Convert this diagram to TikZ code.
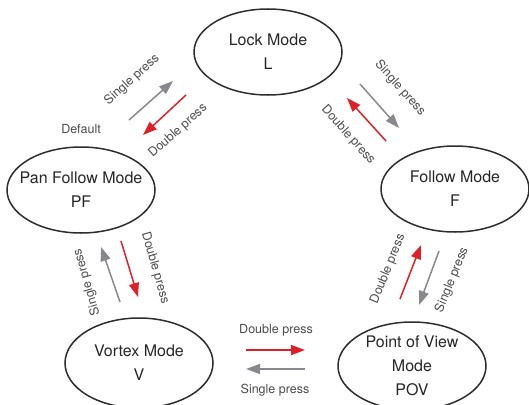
\documentclass[tikz,border=0pt]{standalone}
\usepackage{fontspec}
\setmainfont{TeX Gyre Heros}
\usetikzlibrary{shapes.geometric, arrows.meta}

\definecolor{pressred}{RGB}{222,32,40}
\definecolor{pressgray}{RGB}{136,137,141}
\definecolor{modeline}{RGB}{45,45,45}
\definecolor{labeltext}{RGB}{75,75,75}

\begin{document}
\begin{tikzpicture}[x=1pt, y=-1pt,
  mode/.style={ellipse, draw=modeline, line width=1.5pt, minimum width=148pt,
    minimum height=86pt, inner xsep=-20pt, inner ysep=0pt, align=center,
    text=black!85, font=\fontsize{16}{24}\selectfont},
  singlearrow/.style={pressgray, line width=1.5pt, -{Triangle[length=14pt, width=10pt]}},
  doublearrow/.style={pressred, line width=1.5pt, -{Triangle[length=14pt, width=10pt]}},
  presslabel/.style={text=labeltext, inner sep=0pt, font=\fontsize{12.5}{14}\selectfont}]

\useasboundingbox (0,0) rectangle (529,404);

%% the five modes
\node[mode] (lock) at (268,52) {Lock Mode\\L};
\node[mode] (pan) at (81,190) {Pan Follow Mode\\PF};
\node[mode] (follow) at (455,189) {Follow Mode\\F};
\node[mode, minimum height=90pt] (vortex) at (139,363) {Vortex Mode\\V};
\node[mode, minimum height=88pt] (pov) at (412,366) {Point of View\\Mode\\POV};

%% arrow ends
\coordinate (panlock1) at (129,120);
\coordinate (panlock2) at (173,81);
\coordinate (lockpan1) at (186,95);
\coordinate (lockpan2) at (143,135);
\coordinate (lockfol1) at (360,84);
\coordinate (lockfol2) at (399,128);
\coordinate (follock1) at (386,141);
\coordinate (follock2) at (347,98);
\coordinate (vorpan1) at (120,302);
\coordinate (vorpan2) at (101,247);
\coordinate (panvor1) at (121,241);
\coordinate (panvor2) at (138,297);
\coordinate (povfol1) at (400,299);
\coordinate (povfol2) at (421,245);
\coordinate (folpov1) at (439,251);
\coordinate (folpov2) at (419,305);
\coordinate (vorpov1) at (246,350);
\coordinate (vorpov2) at (305,350);
\coordinate (povvor1) at (305,369);
\coordinate (povvor2) at (246,369);

%% single press in gray
\foreach \a/\b in {panlock1/panlock2, lockfol1/lockfol2, vorpan1/vorpan2, folpov1/folpov2, povvor1/povvor2}
  {
    \draw[singlearrow] (\a) -- (\b);
  }

%% double press in red
\foreach \a/\b in {lockpan1/lockpan2, follock1/follock2, panvor1/panvor2, povfol1/povfol2, vorpov1/vorpov2}
  {
    \draw[doublearrow] (\a) -- (\b);
  }

%% labels
\node[presslabel] (default) at (81,129) {Default};
\node[presslabel, rotate=42] (panlocklabel) at (132,80) {Single press};
\node[presslabel, rotate=42] (lockpanlabel) at (178,131) {Double press};
\node[presslabel, rotate=-48] (lockfollabel) at (400,88) {Single press};
\node[presslabel, rotate=-48] (follocklabel) at (348,135) {Double press};
\node[presslabel, rotate=106] (vorpanlabel) at (87,282) {Single press};
\node[presslabel, rotate=-74] (panvorlabel) at (155,268) {Double press};
\node[presslabel, rotate=68] (povfollabel) at (388,269) {Double press};
\node[presslabel, rotate=68] (folpovlabel) at (452,280) {Single press};
\node[presslabel] (vorpovlabel) at (276,330) {Double press};
\node[presslabel] (povvorlabel) at (275,390) {Single press};

\end{tikzpicture}
\end{document}
